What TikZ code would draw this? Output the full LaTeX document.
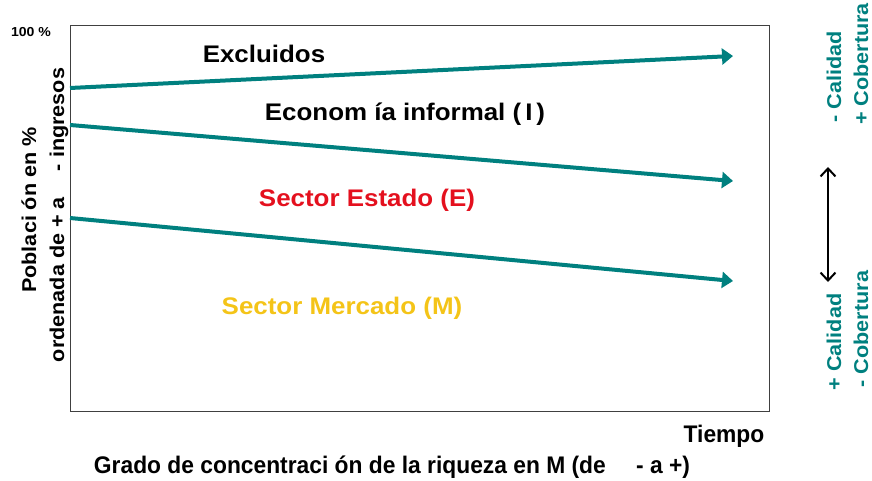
\documentclass[tikz,border=0pt]{standalone}
\usepackage{fontspec}
\setmainfont{Liberation Sans}
\newfontfamily\widefont[FakeStretch=1.08]{Liberation Sans}
\newfontfamily\narrowfont[FakeStretch=0.95]{Liberation Sans}
\usetikzlibrary{arrows.meta}
\definecolor{teal1}{RGB}{0,128,127}
\definecolor{red1}{RGB}{228,16,30}
\definecolor{gold1}{RGB}{244,196,24}
\tikzset{
  big/.style={font=\widefont\bfseries\fontsize{24}{26}\selectfont, inner sep=0pt},
  mid/.style={font=\widefont\bfseries\fontsize{20}{22}\selectfont, inner sep=0pt},
  bottom/.style={font=\narrowfont\bfseries\fontsize{24}{26}\selectfont, inner sep=0pt},
  small/.style={font=\widefont\bfseries\fontsize{13}{15}\selectfont, inner sep=0pt},
  side/.style={font=\widefont\bfseries\fontsize{20}{22}\selectfont, inner sep=0pt, text=teal1, rotate=90},
  trend/.style={draw=teal1, line width=4pt, -{Triangle[length=11pt,width=16pt]}},
  barb/.style={line width=2pt, {Straight Barb[length=8pt,width=15pt]}-{Straight Barb[length=8pt,width=15pt]}},
}
\begin{document}
\begin{tikzpicture}[x=1pt,y=-1pt]
\useasboundingbox (0,0) rectangle (872,481);
\node[draw=black!75, line width=1pt, minimum width=699pt, minimum height=386pt, anchor=north west, inner sep=0pt] (box) at (70,25) {};
\coordinate (s1) at (70,88);
\coordinate (e1) at (733,56);
\coordinate (s2) at (70,125);
\coordinate (e2) at (733,181);
\coordinate (s3) at (70,218);
\coordinate (e3) at (733,281);
\draw[trend] (s1) -- (e1);
\draw[trend] (s2) -- (e2);
\draw[trend] (s3) -- (e3);
\node[small] (cien) at (31,32) {100 \%};
\node[big] (excl) at (264,54) {Excluidos};
\node[big] (econ) at (405,114) {Econom ía informal (\,I\,)};
\node[big, text=red1] (est) at (367,200) {Sector Estado (E)};
\node[big, text=gold1] (merc) at (342,308) {Sector Mercado (M)};
\node[mid, rotate=90] (pob) at (29,210) {Poblaci ón en \%};
\node[mid, rotate=90] (ord) at (59,215) {ordenada de + a \quad - ingresos};
\node[bottom] (tiem) at (724,436) {Tiempo};
\node[bottom] (grado) at (392,467) {Grado de concentraci ón de la riqueza en M (de \quad - a +)};
\node[side] (cal1) at (834,77) {- Calidad};
\node[side] (cob1) at (861,64) {+ Cobertura};
\node[side] (cal2) at (834,342) {+ Calidad};
\node[side] (cob2) at (861,329) {- Cobertura};
\coordinate (a1) at (828,167);
\coordinate (a2) at (828,282);
\draw[barb] (a1) -- (a2);
\end{tikzpicture}
\end{document}
